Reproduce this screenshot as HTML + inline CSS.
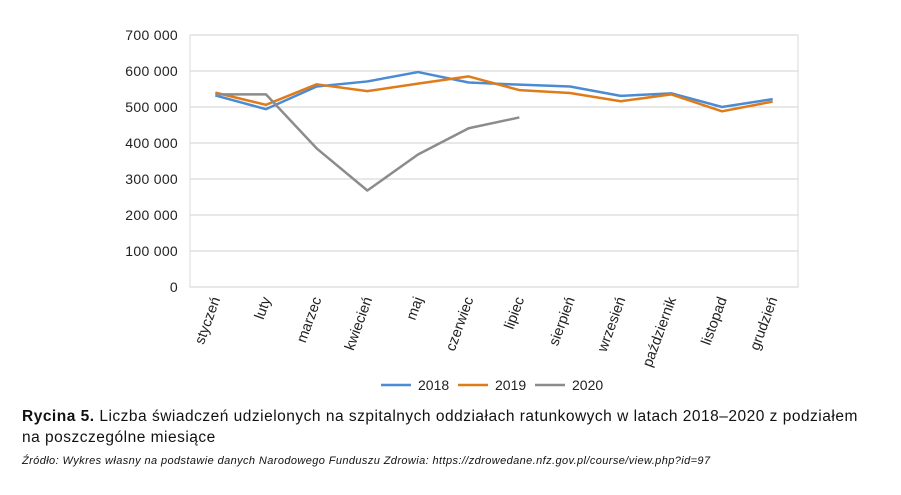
<!DOCTYPE html>
<html><head><meta charset="utf-8"><style>
body{margin:0;background:#fff;width:901px;height:490px;overflow:hidden;font-family:"Liberation Sans",sans-serif}
</style></head><body>
<svg width="901" height="490" id="c" font-family="Liberation Sans, sans-serif"></svg>
<div style="position:absolute;left:22px;top:406px;font-size:15.5px;letter-spacing:0.5px;color:#111;line-height:21px;width:845px"><b>Rycina 5.</b> Liczba świadczeń udzielonych na szpitalnych oddziałach ratunkowych w latach 2018–2020 z podziałem na poszczególne miesiące</div>
<div style="position:absolute;left:22px;top:455px;font-size:11px;letter-spacing:0.4px;font-style:italic;color:#111">Źródło: Wykres własny na podstawie danych Narodowego Funduszu Zdrowia: https://zdrowedane.nfz.gov.pl/course/view.php?id=97</div>
<script>
const months=["styczeń","luty","marzec","kwiecień","maj","czerwiec","lipiec","sierpień","wrzesień","październik","listopad","grudzień"];
const s2018=[532,494,557,571,597,568,562,557,531,538,500,522];
const s2019=[540,506,563,544,565,585,547,539,516,535,488,515];
const s2020=[535,535,385,268,368,441,471];
const yTicks=[0,100,200,300,400,500,600,700];
const yLabels=["0","100 000","200 000","300 000","400 000","500 000","600 000","700 000"];
const NS="http://www.w3.org/2000/svg",svg=document.getElementById('c');
const L=190,R=798,T=35,B=287;
const x=i=>L+(R-L)/12*(i+0.5), y=v=>B-(B-T)*v/700;
function el(t,a,p){const e=document.createElementNS(NS,t);for(const k in a)e.setAttribute(k,a[k]);(p||svg).appendChild(e);return e;}
el('rect',{x:L,y:T,width:R-L,height:B-T,fill:'none',stroke:'#d9d9d9'});
yTicks.forEach((v,i)=>{
 const g=el('line',{x1:L,x2:R,y1:y(v),y2:y(v),stroke:'#d0d0d0'});
 
 
 const t=el('text',{x:L-12,y:y(v)+5,'text-anchor':'end','font-size':14,'letter-spacing':0.3,fill:'#222'});t.textContent=yLabels[i];
 
 
});
months.forEach((m,i)=>{
 const t=el('text',{transform:`translate(${x(i)+5},${B+12}) rotate(-70)`,'text-anchor':'end','font-size':14.5,fill:'#222'});t.textContent=m;
 
 
});
[[s2018,'#4a8bd4','line-2018'],[s2019,'#e07b1a','line-2019'],[s2020,'#8c8c8c','line-2020']].forEach(([d,c,n])=>{
 const p=el('polyline',{points:d.map((v,i)=>x(i)+','+y(v)).join(' '),fill:'none',stroke:c,'stroke-width':2.5,'stroke-linejoin':'round'});
 
 
});
[['2018','#4a8bd4',381],['2019','#e07b1a',458],['2020','#8c8c8c',535]].forEach(([l,c,lx])=>{
 const g=el('g',{});
 
 
 el('line',{x1:lx,x2:lx+30,y1:385,y2:385,stroke:c,'stroke-width':2.5},g);
 const t=el('text',{x:lx+37,y:390,'font-size':14,fill:'#222'},g);t.textContent=l;
});
</script>
</body></html>
